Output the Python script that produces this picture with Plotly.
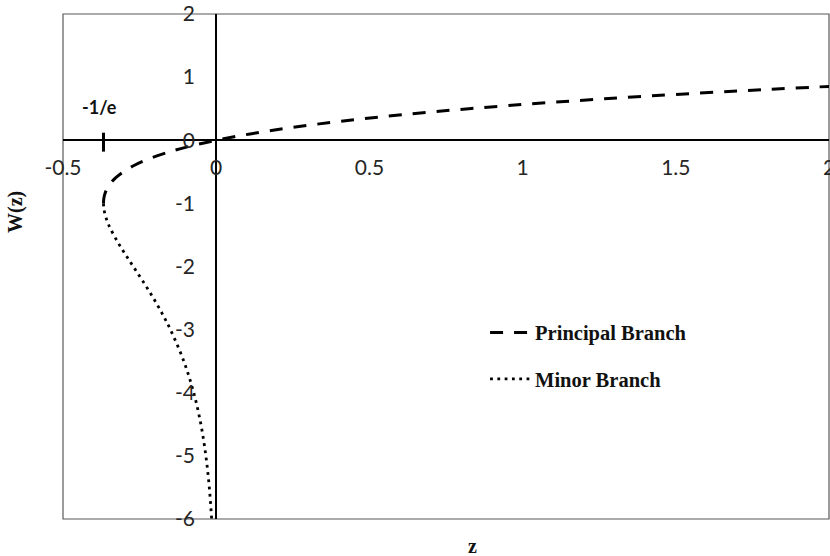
import plotly.graph_objects as go

# Principal branch W0: (z, W) pairs
principal_w = [-1.0, -0.95, -0.9, -0.85, -0.8, -0.7, -0.6, -0.5, -0.4, -0.3, -0.2, -0.1,
               0.0, 0.1, 0.2, 0.3, 0.4, 0.5, 0.6, 0.7, 0.8, 0.8526]
principal_z = [-0.3679, -0.3674, -0.3659, -0.3633, -0.3595, -0.3476, -0.3293, -0.3033,
               -0.2681, -0.2222, -0.1637, -0.0905, 0.0, 0.1105, 0.2443, 0.4050, 0.5967,
               0.8244, 1.0933, 1.4096, 1.7804, 2.0]

# Minor branch W-1
minor_w = [-1.0, -1.05, -1.1, -1.2, -1.3, -1.4, -1.6, -1.8, -2.0, -2.25, -2.5, -2.75,
           -3.0, -3.5, -4.0, -4.5, -5.0, -5.5, -6.0]
minor_z = [-0.3679, -0.3674, -0.3662, -0.3614, -0.3543, -0.3452, -0.3230, -0.2975,
           -0.2707, -0.2371, -0.2052, -0.1758, -0.1494, -0.1057, -0.0733, -0.0500,
           -0.0337, -0.0225, -0.0149]

x_ticks = [-0.5, 0, 0.5, 1, 1.5, 2]
x_tick_labels = ["-0.5", "0", "0.5", "1", "1.5", "2"]
y_ticks = [2, 1, 0, -1, -2, -3, -4, -5, -6]
y_tick_labels = ["2", "1", "0", "-1", "-2", "-3", "-4", "-5", "-6"]

inv_e = -0.3679

X_RANGE = [-0.5, 2]
Y_RANGE = [-6, 2]

serif_bold = dict(family="Liberation Serif", size=20, color="#111111")
legend_font = dict(family="Liberation Serif", size=20.5, color="#111111")
tick_font = dict(family="Lato", size=21, color="#262626")

fig = go.Figure()
fig.add_trace(go.Scatter(
    x=principal_z, y=principal_w, mode="lines", name="<b>Principal Branch</b>",
    line=dict(color="black", width=3, dash="13px,11px", shape="spline"),
    legend="legend", showlegend=True,
))
fig.add_trace(go.Scatter(
    x=minor_z, y=minor_w, mode="lines", name="<b>Minor Branch</b>",
    line=dict(color="black", width=2.8, dash="2.8px,4.5px", shape="spline"),
    legend="legend2", showlegend=True,
))

x_cross = (0 - X_RANGE[0]) / (X_RANGE[1] - X_RANGE[0])
y_cross = (0 - Y_RANGE[0]) / (Y_RANGE[1] - Y_RANGE[0])

fig.update_layout(
    width=830, height=556,
    margin=dict(l=63, r=1, t=14, b=37, autoexpand=False),
    paper_bgcolor="white", plot_bgcolor="white",
    showlegend=True,
    xaxis=dict(
        range=X_RANGE, tickvals=x_ticks, ticktext=x_tick_labels,
        showgrid=False, zeroline=False, showline=True, linecolor="black", linewidth=2,
        anchor="free", position=y_cross, ticks="", ticklabelstandoff=9,
        ticklabeloverflow="allow",
        tickfont=tick_font, fixedrange=True, automargin=False,
    ),
    yaxis=dict(
        range=Y_RANGE, tickvals=y_ticks, ticktext=y_tick_labels,
        showgrid=False, zeroline=False, showline=True, linecolor="black", linewidth=2,
        anchor="free", position=x_cross, ticks="", ticklabelstandoff=16,
        ticklabeloverflow="allow",
        tickfont=tick_font, fixedrange=True, automargin=False,
    ),
    legend=dict(x=0.551, y=0.369, xanchor="left", yanchor="middle",
                font=legend_font, itemwidth=40, bgcolor="rgba(0,0,0,0)"),
    legend2=dict(x=0.551, y=0.277, xanchor="left", yanchor="middle",
                 font=legend_font, itemwidth=40, bgcolor="rgba(0,0,0,0)"),
    shapes=[
        dict(type="rect", xref="paper", yref="paper", x0=0, x1=1, y0=0, y1=1,
             line=dict(color="#595959", width=1.2), layer="below"),
        dict(type="line", xref="x", yref="y", x0=inv_e, x1=inv_e, y0=-0.18, y1=0.12,
             line=dict(color="black", width=3)),
    ],
    annotations=[
        dict(text="<b>-1/e</b>", x=inv_e - 0.012, y=0.53, xref="x", yref="y",
             xanchor="center", yanchor="middle",
             showarrow=False, font=dict(family="Lato", size=18, color="#111111")),
        dict(text="<b>z</b>", x=0.534, y=-0.0535, xref="paper", yref="paper",
             xanchor="center", yanchor="middle",
             showarrow=False, font=serif_bold),
        dict(text="<b>W(z)</b>", x=-0.0614, y=0.608, xref="paper", yref="paper",
             xanchor="center", yanchor="middle",
             showarrow=False, textangle=-90, font=serif_bold),
    ],
)

fig.write_html("out.html", config={"displayModeBar": False},
               post_script="document.body.style.margin='0';")
